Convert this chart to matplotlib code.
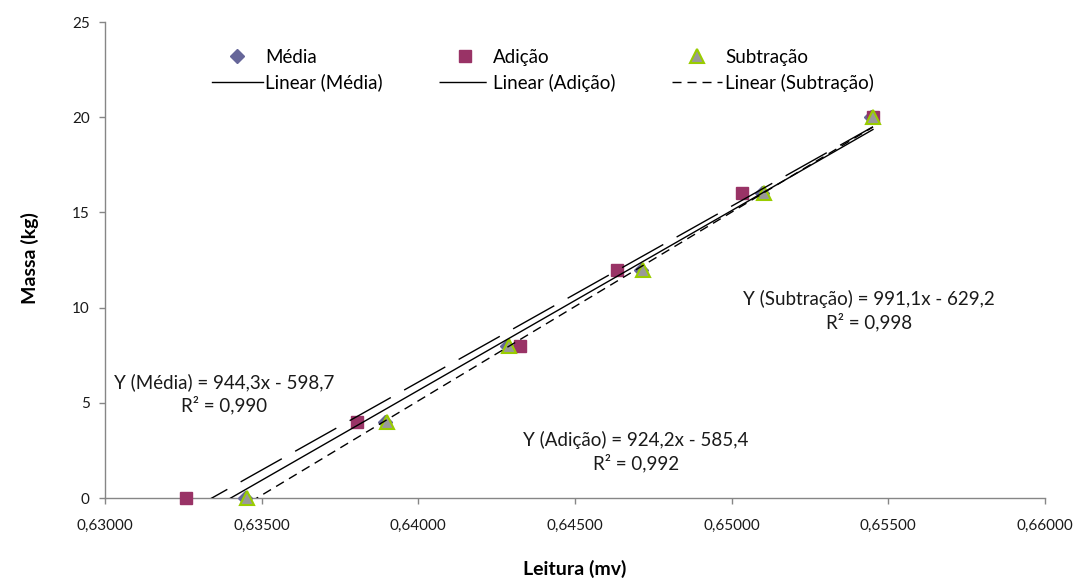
import numpy as np
import matplotlib.pyplot as plt
from matplotlib.ticker import FuncFormatter, MultipleLocator

# Massa aplicada (kg) e leituras da célula de carga (mv)
massa = [0, 4, 8, 12, 16, 20]
leitura_media = [0.63448, 0.63895, 0.64284, 0.64712, 0.65098, 0.65446]
leitura_adicao = [0.63259, 0.63804, 0.64324, 0.64634, 0.65033, 0.65451]
leitura_subtracao = [0.63453, 0.63900, 0.64289, 0.64717, 0.65103, 0.65451]

# Retas de tendência: (inclinação, intercepto, R²)
reta_media = (944.3, -598.7, 0.990)
reta_adicao = (924.2, -585.4, 0.992)
reta_subtracao = (991.1, -629.2, 0.998)

W, H = 1074, 585
CINZA = '#868686'


def fig_pos(px, py):
    """Converte pixels da figura para fração"""
    return px / W, 1 - py / H


def virgula(v, pos):
    return f"{v:.5f}".replace('.', ',')


def equacao(nome, reta):
    a, b, r2 = reta
    txt = f"Y ({nome}) = {a:.1f}x - {abs(b):.1f}\nR² = {r2:.3f}"
    return txt.replace('.', ',')


def main():
    plt.rcParams['font.family'] = ['Lato', 'DejaVu Sans']
    fig = plt.figure(figsize=(W / 100, H / 100), dpi=100)
    ax = fig.add_axes([105 / W, 1 - 498 / H, 940 / W, 476 / H])

    # Pontos medidos
    p_media, = ax.plot(leitura_media, massa, 'D', ms=7.5, color='#666699',
                       clip_on=False, zorder=3)
    p_adicao, = ax.plot(leitura_adicao, massa, 's', ms=9, color='#993366',
                        clip_on=False, zorder=4)
    p_sub, = ax.plot(leitura_subtracao, massa, '^', ms=10, color='#999999',
                     mec='#99CC00', mew=1.5, clip_on=False, zorder=5)

    # Retas de tendência sobre todo o intervalo de leituras
    todos = leitura_media + leitura_adicao + leitura_subtracao
    x = np.array([min(todos), max(todos)])
    l_media, = ax.plot(x, reta_media[0] * x + reta_media[1], color='black',
                       lw=1.0, zorder=6)
    l_adicao, = ax.plot(x, reta_adicao[0] * x + reta_adicao[1], color='black',
                        lw=1.0, dashes=(34, 11), zorder=6)
    l_sub, = ax.plot(x, reta_subtracao[0] * x + reta_subtracao[1],
                     color='black', lw=1.0, dashes=(6.5, 4.3), zorder=6)

    ax.set_xlim(0.63, 0.66)
    ax.set_ylim(0, 25)
    ax.xaxis.set_major_locator(MultipleLocator(0.005))
    ax.xaxis.set_major_formatter(FuncFormatter(virgula))
    ax.yaxis.set_major_locator(MultipleLocator(5))

    for lado in ['top', 'right']:
        ax.spines[lado].set_visible(False)
    for lado in ['left', 'bottom']:
        ax.spines[lado].set_color(CINZA)
        ax.spines[lado].set_linewidth(1.0)
    ax.tick_params(axis='both', colors=CINZA, labelcolor='#1a1a1a',
                   labelsize=11, length=4, width=1.0, direction='out')
    ax.tick_params(axis='x', pad=11)
    ax.tick_params(axis='y', pad=7)

    ax.set_xlabel('Leitura (mv)', fontsize=14, fontweight='bold')
    ax.xaxis.set_label_coords(0.5, -0.13)
    ax.set_ylabel('Massa (kg)', fontsize=14, fontweight='bold', va='center')
    ax.yaxis.set_label_coords(-0.08, 0.504)

    # Legenda em duas linhas: marcadores em cima, retas embaixo
    handles = [p_media, l_media, p_adicao, l_adicao, p_sub, l_sub]
    labels = ['Média', 'Linear (Média)', 'Adição', 'Linear (Adição)',
              'Subtração', 'Linear (Subtração)']
    fig.legend(handles, labels, ncol=3, loc='upper left',
               bbox_to_anchor=fig_pos(212, 49), frameon=False, fontsize=13.5,
               handlelength=2.7, handletextpad=0.15, columnspacing=3.0,
               labelspacing=0.4, borderpad=0, borderaxespad=0, numpoints=1)

    # Equações das retas
    for nome, reta, px, py in [('Média', reta_media, 224, 394),
                               ('Adição', reta_adicao, 636, 452),
                               ('Subtração', reta_subtracao, 869, 311)]:
        fig.text(*fig_pos(px, py), equacao(nome, reta), fontsize=13.5,
                 ha='center', va='center', multialignment='center',
                 linespacing=1.3, color='#1a1a1a')

    fig.savefig('out.png', dpi=100)


if __name__ == "__main__":
    main()
